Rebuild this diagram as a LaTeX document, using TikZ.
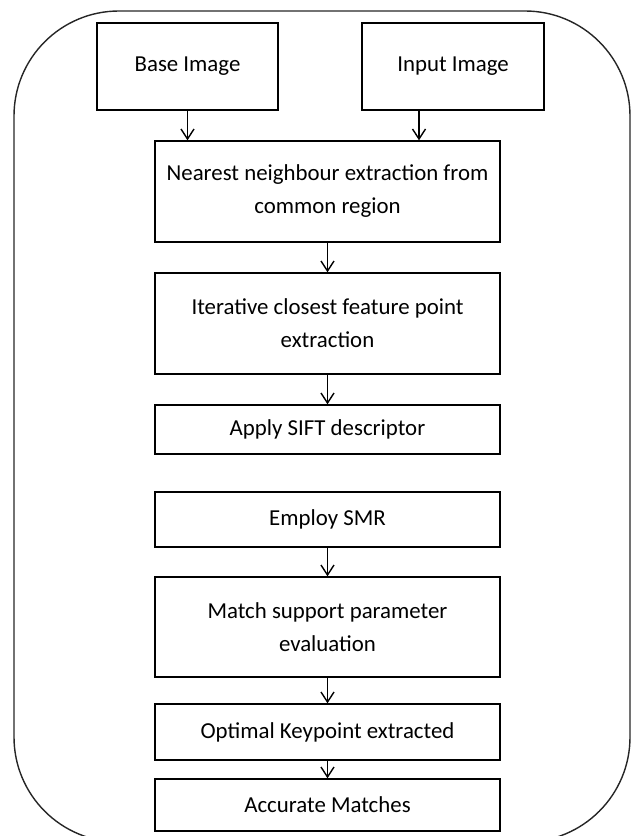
\documentclass[tikz,border=0pt]{standalone}
\usepackage{fontspec}
\setmainfont{Carlito}
\usetikzlibrary{arrows.meta}

\begin{document}
\begin{tikzpicture}[>={Straight Barb[length=2mm,width=2.6mm]},
  main/.style = {draw, rectangle, line width=0.8pt, align=center, inner sep=0pt,
    font=\fontsize{13pt}{18.8pt}\selectfont, minimum width=6.9cm}]
\useasboundingbox (0,0) rectangle (12.66,-16.72);
\draw[line width=0.8pt, black!85, rounded corners=2.1cm] (0.28,-0.22) rectangle (12.6,-16.84);

\node[main, minimum width=3.62cm, minimum height=1.74cm] (1) at (3.75,-1.33) {Base Image};
\node[main, minimum width=3.64cm, minimum height=1.74cm] (2) at (9.06,-1.33) {Input Image};
\node[main, minimum height=2.02cm] (3) at (6.55,-3.83) {Nearest neighbour extraction from\\common region};
\node[main, minimum height=2.02cm] (4) at (6.55,-6.47) {Iterative closest feature point\\extraction};
\node[main, minimum height=0.98cm] (5) at (6.55,-8.59) {Apply SIFT descriptor};
\node[main, minimum height=1.10cm] (6) at (6.55,-10.39) {Employ SMR};
\node[main, minimum height=2.00cm] (7) at (6.55,-12.54) {Match support parameter\\evaluation};
\node[main, minimum height=1.12cm] (8) at (6.55,-14.64) {Optimal Keypoint extracted};
\node[main, minimum height=1.04cm] (9) at (6.55,-16.10) {Accurate Matches};

\draw[->, line width=0.8pt] (1.south) -- (1.south |- 3.north);
\draw[->, line width=0.8pt] ([xshift=-6.8mm]2.south) -- ([xshift=-6.8mm]2.south |- 3.north);
\draw[->, line width=0.8pt] (3) -- (4);
\draw[->, line width=0.8pt] (4) -- (5);
\draw[->, line width=0.8pt] (6) -- (7);
\draw[->, line width=0.8pt] (7) -- (8);
\draw[->, line width=0.8pt] (8) -- (9);

\end{tikzpicture}
\end{document}
